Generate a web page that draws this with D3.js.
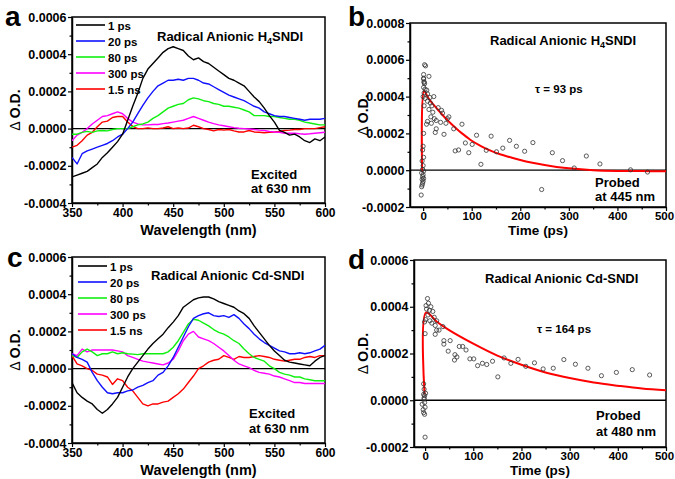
<!DOCTYPE html>
<html><head><meta charset="utf-8">
<script src="https://cdn.jsdelivr.net/npm/d3@7"></script>
<style>
body{margin:0;background:#fff}
svg{display:block}
text{font-family:"Liberation Sans",Arial,sans-serif;font-weight:bold;fill:#000}
</style>
</head><body>
<svg id="chart" width="675" height="479"></svg>
<script>
// ---------- DATA (ΔO.D. values in units of 1e-4) ----------
const wavelengths = [350,355,360,365,370,375,380,385,390,395,400,405,410,415,420,425,430,435,440,445,450,455,460,465,470,475,480,485,490,495,500,505,510,515,520,525,530,535,540,545,550,555,560,565,570,575,580,585,590,595,600];
const delays = ["1 ps","20 ps","80 ps","300 ps","1.5 ns"];
const seriesColors = ["#000000","#1010ff","#10f010","#ff00ff","#ff0000"];

// Panel a: Radical Anionic H4SNDI
const a_1ps   = [-2.6,-2.5,-2.4,-2.3,-2.1,-1.9,-1.55,-1.3,-1.0,-0.7,-0.3,0.45,1.2,1.9,2.7,3.2,3.5,3.8,4.1,4.3,4.4,4.3,4.2,3.9,3.7,3.8,3.6,3.5,3.3,3.1,2.9,2.7,2.6,2.45,2.3,2.0,1.7,1.45,1.1,0.7,0.35,-0.1,-0.2,-0.35,-0.3,-0.45,-0.65,-0.75,-0.55,-0.65,-0.45];
const a_20ps  = [-1.55,-1.9,-1.35,-1.2,-1.1,-1.0,-0.9,-0.8,-0.65,-0.45,-0.3,0.0,0.35,0.8,1.25,1.65,2.0,2.3,2.45,2.6,2.6,2.65,2.6,2.7,2.7,2.6,2.45,2.4,2.25,2.1,1.95,1.8,1.7,1.6,1.5,1.35,1.2,1.1,0.9,0.8,0.7,0.65,0.65,0.6,0.55,0.5,0.45,0.5,0.5,0.5,0.55];
const a_80ps  = [-0.3,-0.3,-0.2,-0.15,-0.2,-0.12,-0.1,-0.12,-0.05,0,0,0,0.1,0.2,0.25,0.35,0.55,0.7,0.9,1.1,1.2,1.3,1.35,1.55,1.65,1.6,1.5,1.45,1.35,1.3,1.2,1.2,1.15,1.1,1.0,0.9,0.7,0.7,0.7,0.65,0.65,0.6,0.55,0.5,0.5,0.45,0.35,0.3,0.25,0.2,0.2];
const a_300ps = [-0.65,-0.35,-0.2,0,0.25,0.45,0.65,0.7,0.8,0.9,0.8,0.55,0.35,0.25,0.2,0.2,0.22,0.22,0.27,0.3,0.35,0.4,0.45,0.55,0.65,0.55,0.45,0.35,0.27,0.2,0.15,0.1,0.05,0.02,0,-0.02,-0.05,-0.08,-0.1,-0.15,-0.18,-0.2,-0.25,-0.25,-0.25,-0.28,-0.3,-0.28,-0.25,-0.22,-0.2];
const a_1_5ns = [-1.0,-0.9,-0.65,-0.35,-0.2,0.1,0.35,0.4,0.6,0.65,0.65,0.35,0.12,0,0,0.04,0,0,0.03,0.1,0,0.03,0,0.03,0.18,0.1,0,-0.05,-0.12,-0.05,-0.08,-0.05,-0.12,-0.18,-0.18,-0.1,-0.18,-0.2,-0.22,-0.2,-0.18,-0.15,-0.1,-0.08,-0.05,-0.05,0,0,0,0.05,0.1];

// Panel c: Radical Anionic Cd-SNDI
const c_1ps   = [-0.75,-1.3,-1.55,-1.75,-1.9,-2.2,-2.4,-2.2,-1.9,-1.55,-1.0,-0.45,0,0.35,0.7,1.05,1.35,1.6,1.85,2.2,2.5,2.85,3.3,3.5,3.7,3.8,3.85,3.85,3.75,3.6,3.5,3.4,3.3,3.1,2.95,2.7,2.3,1.95,1.6,1.25,0.95,0.7,0.45,0.35,0.3,0.25,0.2,0.15,0.4,0.6,0.7];
const c_20ps  = [0.8,0.6,0.5,0.35,-0.2,-0.65,-1.0,-1.3,-1.35,-1.3,-1.3,-1.2,-1.15,-1.0,-0.9,-0.75,-0.65,-0.35,-0.2,0.15,0.6,1.15,1.7,2.25,2.7,2.85,2.95,3.0,2.85,2.8,2.85,2.75,2.9,2.7,2.4,2.15,1.85,1.6,1.4,1.25,1.1,0.95,0.9,0.8,0.8,0.85,0.8,0.85,0.95,1.05,1.25];
const c_80ps  = [0.7,0.6,0.9,1.05,0.9,0.7,0.8,0.8,0.9,0.8,0.85,0.8,0.78,0.75,0.8,0.8,0.8,0.8,0.8,0.9,1.15,1.5,1.95,2.4,2.65,2.6,2.45,2.3,2.1,1.95,1.85,1.7,1.5,1.35,1.05,0.8,0.6,0.5,0.4,0.15,0,-0.2,-0.3,-0.35,-0.45,-0.45,-0.55,-0.6,-0.65,-0.65,-0.65];
const c_300ps = [0.8,0.7,1.05,0.9,1.0,1.0,1.0,1.0,1.0,0.95,0.9,0.7,0.6,0.5,0.4,0.35,0.3,0.25,0.2,0.3,0.5,0.95,1.5,1.85,2.0,1.7,1.6,1.5,1.35,1.15,0.95,0.7,0.45,0.25,0.15,0.05,-0.1,-0.2,-0.25,-0.3,-0.4,-0.45,-0.55,-0.65,-0.75,-0.75,-0.8,-0.8,-0.8,-0.8,-0.8];
const c_1_5ns = [0.7,0.25,0.15,0,-0.1,-0.3,-0.35,-0.45,-0.85,-0.55,-0.65,-1.0,-1.2,-1.55,-1.9,-2.0,-1.9,-1.9,-1.8,-1.75,-1.55,-1.35,-1.1,-0.75,-0.4,0,0.15,0.35,0.45,0.5,0.7,0.6,0.5,0.65,0.6,0.6,0.65,0.7,0.65,0.6,0.5,0.45,0.4,0.45,0.5,0.5,0.6,0.65,0.6,0.7,0.7];

// Panel b: kinetics probed at 445 nm (time ps, ΔO.D. 1e-4)
const b_time = [-4,-3,-2,-1,0,-2,1,-1,0,-3,1,-1,0,-2,1,-1,0,1,2,0,1,2,1,1,3,5,1,2,3,2,4,7.5,9,12,14,22,4,9,15,18,31,12,20,38,40,16,23,9,27,17,7,36,53,50,47,27,25,43,63,80,110,140,66,73,87,94,101,119,130,151,164,178,192,209,226,244,266,287,311,336,364,427,462];
const b_val  = [-1.35,-0.9,-0.8,-0.7,-0.6,-0.5,-0.45,-0.35,-0.25,-0.15,-0.05,0.05,0.25,0.5,0.7,1.1,1.3,2.0,3.5,4.0,4.5,4.8,5.0,5.2,5.73,5.67,4.95,4.77,4.7,4.2,4.4,4.35,4.15,5.1,3.95,4.0,3.9,3.75,3.65,3.5,3.4,3.3,3.15,3.25,3.1,2.9,2.8,2.65,2.7,2.55,2.5,2.6,2.9,2.8,2.55,2.25,2.05,1.95,2.25,2.5,1.9,1.85,1.05,1.1,1.48,0.95,1.4,0.32,1.08,1.0,1.2,1.62,1.3,1.03,1.5,-1.05,0.95,0.52,0.12,0.77,0.34,0.02,-0.1];
const b_fitTime = [-2,2,10,20,30,40,50,60,70,80,90,100,120,140,160,180,200,225,250,275,300,350,400,450,500];
const b_fitVal  = [-0.1,4.3,3.95,3.6,3.3,3.0,2.72,2.47,2.22,2.0,1.8,1.6,1.3,1.05,0.85,0.7,0.55,0.4,0.28,0.18,0.1,0.0,-0.04,-0.05,-0.06];

// Panel d: kinetics probed at 480 nm
const d_time = [0,-3,-2,-3,-2,-6,-4,-3,-1,-2,-1,1,-1,0,0,-1,1,3,2,5,7,9,12,6,10,14,16,19,21,24,29,21,24,37,39,39,52,48,62,66,61,71,78,85,93,101,109,119,128,140,151,164,178,193,209,227,245,266,288,312,338,366,397,430,466];
const d_val  = [-1.58,0.7,0.47,0.25,0.1,-0.17,-0.4,-0.53,-0.6,0.05,0.2,0.3,-0.1,-0.3,2.85,3.35,3.45,3.9,4.05,4.35,4.15,3.85,4.0,3.65,3.4,3.3,3.8,3.55,3.2,3.4,3.0,2.82,3.0,3.15,2.55,2.4,2.55,2.1,1.95,1.85,1.72,2.3,2.3,2.15,1.77,1.77,1.48,1.58,1.53,1.67,1.0,1.81,1.58,1.75,1.45,1.6,1.34,1.37,1.74,1.54,1.37,1.05,1.19,1.31,1.08];
const d_fitTime = [-1,2,25,50,100,150,200,250,300,350,400,450,500];
const d_fitVal  = [0.25,3.75,3.35,3.0,2.42,1.91,1.52,1.19,0.95,0.76,0.62,0.5,0.43];

// ---------- DRAWING ----------
const svg = d3.select("#chart");
const fmtOD = d => (d / 10000).toFixed(4);

function makePanel(p) {
  const g = svg.append("g");
  const x = d3.scaleLinear().domain(p.xDomain).range([p.left, p.right]);
  const y = d3.scaleLinear().domain(p.yDomain).range([p.bottom, p.top]);
  const clipId = "clip" + p.id;
  svg.append("clipPath").attr("id", clipId).append("rect")
    .attr("x", p.left).attr("y", p.top).attr("width", p.right - p.left).attr("height", p.bottom - p.top);

  // minor ticks
  g.append("g").attr("transform", `translate(${p.left},0)`)
    .call(d3.axisLeft(y).tickValues(p.yMinor).tickSize(2.5).tickFormat(""))
    .call(s => s.select(".domain").remove());
  g.append("g").attr("transform", `translate(0,${p.bottom})`)
    .call(d3.axisBottom(x).tickValues(p.xMinor).tickSize(2.5).tickFormat(""))
    .call(s => s.select(".domain").remove());
  // major axes
  const ya = g.append("g").attr("transform", `translate(${p.left},0)`)
    .call(d3.axisLeft(y).tickValues(p.yTicks).tickSize(4).tickSizeOuter(0).tickPadding(1.5).tickFormat(fmtOD));
  const xa = g.append("g").attr("transform", `translate(0,${p.bottom})`)
    .call(d3.axisBottom(x).tickValues(p.xTicks).tickSize(4).tickSizeOuter(0).tickPadding(1).tickFormat(d3.format("d")));
  [ya, xa].forEach(a => a.attr("font-family", null).attr("font-size", null));
  ya.selectAll("text").style("font-size", "12.5px");
  xa.selectAll("text").style("font-size", p.xTickSize || "12px");
  if (p.lastTickShift) {
    xa.selectAll(".tick text").filter(d => d === p.xTicks[p.xTicks.length - 1]).attr("dx", p.lastTickShift);
  }
  g.selectAll(".tick line").attr("stroke", "#000").attr("stroke-width", 1.2);
  g.selectAll(".domain").attr("stroke-width", 1.5);

  // frame
  g.append("rect").attr("x", p.left).attr("y", p.top)
    .attr("width", p.right - p.left).attr("height", p.bottom - p.top)
    .attr("fill", "none").attr("stroke", "#000").attr("stroke-width", 1.5);

  const plot = g.append("g").attr("clip-path", `url(#${clipId})`);
  // zero line
  plot.append("line").attr("x1", p.left).attr("x2", p.right)
    .attr("y1", y(0)).attr("y2", y(0)).attr("stroke", "#000").attr("stroke-width", 1.3);

  // labels
  g.append("text").attr("x", p.letterX).attr("y", p.letterY).style("font-size", "28px").text(p.letter);
  g.append("text").attr("x", (p.left + p.right) / 2 + p.xTitleShift).attr("y", p.xTitleY)
    .attr("text-anchor", "middle").style("font-size", p.xTitleSize).text(p.xTitle);
  const yl = g.append("text")
    .attr("transform", `translate(${p.yTitleX},${(p.top + p.bottom) / 2}) rotate(-90)`)
    .attr("text-anchor", "middle").style("font-size", "14px");
  yl.append("tspan").style("font-weight", "normal").text("Δ ");
  yl.append("tspan").text("O.D.");

  const t = g.append("text").attr("x", p.titleX).attr("y", p.titleY).style("font-size", "13px");
  p.title.forEach(part => {
    if (part.sub) t.append("tspan").attr("dy", 3).style("font-size", "9px").text(part.sub);
    else t.append("tspan").attr("dy", part.after ? -3 : 0).text(part.t);
  });
  p.notes.forEach(n => {
    g.append("text").attr("x", n.x).attr("y", n.y).style("font-size", n.size || "13px").text(n.t);
  });
  return {g, plot, x, y};
}

function spectraPanel(p, series) {
  const {g, plot, x, y} = makePanel(p);
  const line = d3.line().x((d, i) => x(wavelengths[i])).y(d => y(d));
  // draw in reverse so black is on top
  series.map((s, i) => ({s, i})).reverse().forEach(({s, i}) => {
    plot.append("path").attr("d", line(s)).attr("fill", "none")
      .attr("stroke", seriesColors[i]).attr("stroke-width", 1.4).attr("stroke-linejoin", "round");
  });
  // legend
  delays.forEach((lab, i) => {
    const yy = p.legendY + i * 16;
    g.append("line").attr("x1", p.legendX).attr("x2", p.legendX + 29).attr("y1", yy).attr("y2", yy)
      .attr("stroke", seriesColors[i]).attr("stroke-width", 1.6);
    g.append("text").attr("x", p.legendX + 32).attr("y", yy + 4.5).style("font-size", "11.5px").text(lab);
  });
}

function kineticsPanel(p, tArr, vArr, ftArr, fvArr) {
  const {plot, x, y} = makePanel(p);
  const fit = d3.line().x((d, i) => x(ftArr[i])).y(d => y(d)).curve(d3.curveCatmullRom.alpha(0.5));
  plot.append("path").attr("d", fit(fvArr)).attr("fill", "none")
    .attr("stroke", "#ff0000").attr("stroke-width", 2);
  plot.selectAll("circle.pt").data(vArr).enter().append("circle")
    .attr("cx", (d, i) => x(tArr[i])).attr("cy", d => y(d)).attr("r", 2.1)
    .attr("fill", "none").attr("stroke", "#333").attr("stroke-width", 0.8);
}

const specCommon = {
  xDomain: [350, 600], yDomain: [-4, 6], left: 72, right: 325,
  xTicks: [350, 400, 450, 500, 550, 600], xMinor: [375, 425, 475, 525, 575],
  yTicks: [-4, -2, 0, 2, 4, 6], yMinor: [-3, -1, 1, 3, 5],
  xTitle: "Wavelength (nm)", xTitleSize: "14.5px", xTitleShift: 0, yTitleX: 20, letterX: 5, legendX: 76
};
const kinCommon = {
  right: 666, xTicks: [0, 100, 200, 300, 400, 500], xMinor: [50, 150, 250, 350, 450],
  xTitle: "Time (ps)", xTitleSize: "13.5px", yTitleX: 368, letterX: 348,
  xTickSize: "11.5px", lastTickShift: -2
};

spectraPanel(Object.assign({}, specCommon, {
  id: "a", top: 17, bottom: 203, letter: "a", letterY: 26, xTitleY: 235, legendY: 25,
  titleX: 157, titleY: 41,
  title: [{t: "Radical Anionic H"}, {sub: "4"}, {t: "SNDI", after: true}],
  notes: [{x: 251, y: 179, t: "Excited"}, {x: 251, y: 193, t: "at 630 nm"}]
}), [a_1ps, a_20ps, a_80ps, a_300ps, a_1_5ns]);

spectraPanel(Object.assign({}, specCommon, {
  id: "c", top: 257, bottom: 443, letter: "c", letterX: 7, letterY: 267, xTitleY: 475, legendY: 266,
  legendX: 78, titleX: 151, titleY: 280,
  title: [{t: "Radical Anionic Cd-SNDI"}],
  notes: [{x: 249, y: 418, t: "Excited"}, {x: 249, y: 433, t: "at 630 nm"}]
}), [c_1ps, c_20ps, c_80ps, c_300ps, c_1_5ns]);

kineticsPanel(Object.assign({}, kinCommon, {
  id: "b", left: 410, top: 23, bottom: 207, xDomain: [-27, 500], yDomain: [-2, 8],
  yTicks: [-2, 0, 2, 4, 6, 8], yMinor: [-1, 1, 3, 5, 7], xTitleShift: 0,
  letter: "b", letterY: 26, xTitleY: 235, titleX: 490, titleY: 45,
  title: [{t: "Radical Anionic H"}, {sub: "4"}, {t: "SNDI", after: true}],
  notes: [{x: 535, y: 93, t: "τ = 93 ps", size: "11.5px"}, {x: 595, y: 187, t: "Probed"}, {x: 595, y: 201, t: "at 445 nm"}]
}), b_time, b_val, b_fitTime, b_fitVal);

kineticsPanel(Object.assign({}, kinCommon, {
  id: "d", left: 414, top: 260, bottom: 447, xDomain: [-23, 500], yDomain: [-2, 6],
  yTicks: [-2, 0, 2, 4, 6], yMinor: [-1, 1, 3, 5], xTitleShift: 0,
  letter: "d", letterY: 269, xTitleY: 475, titleX: 485, titleY: 283,
  title: [{t: "Radical Anionic Cd-SNDI"}],
  notes: [{x: 537, y: 333, t: "τ = 164 ps", size: "11.5px"}, {x: 596, y: 420, t: "Probed"}, {x: 596, y: 436, t: "at 480 nm"}]
}), d_time, d_val, d_fitTime, d_fitVal);
</script>
</body></html>
